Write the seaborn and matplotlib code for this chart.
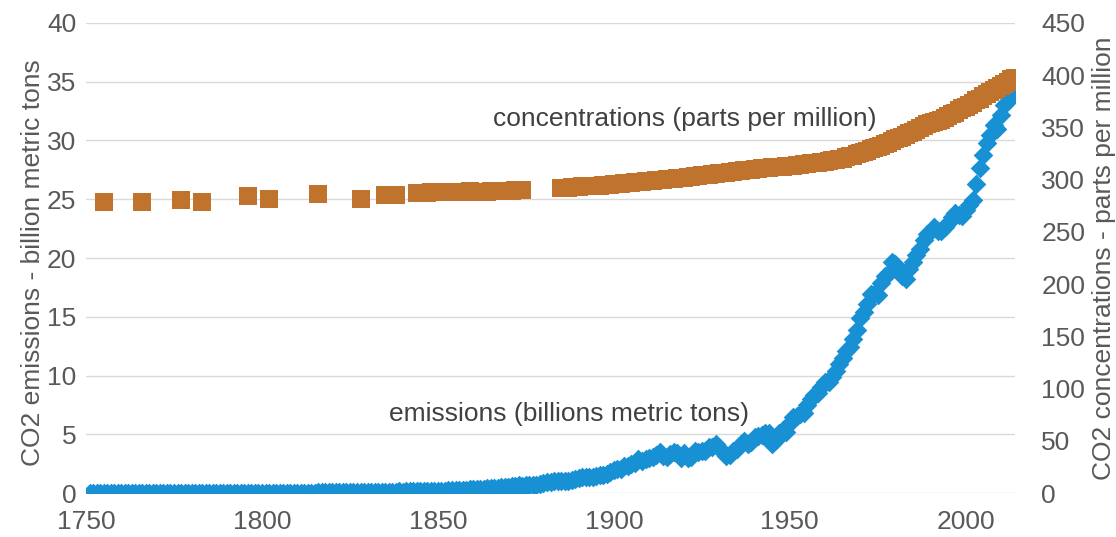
import matplotlib
matplotlib.use("Agg")
import matplotlib.pyplot as plt
import pandas as pd
import seaborn as sns

# Global CO2 emissions from fossil fuels, billion metric tons, one value per year
emission_years = list(range(1751, 2015))
emissions = [
    # 1751-1760
    0.01, 0.01, 0.01, 0.01, 0.01, 0.01, 0.01, 0.01, 0.01, 0.01,
    # 1761-1770
    0.01, 0.01, 0.01, 0.01, 0.01, 0.01, 0.01, 0.01, 0.01, 0.01,
    # 1771-1780
    0.01, 0.01, 0.01, 0.01, 0.01, 0.01, 0.01, 0.01, 0.01, 0.02,
    # 1781-1790
    0.02, 0.02, 0.02, 0.02, 0.02, 0.02, 0.02, 0.02, 0.02, 0.02,
    # 1791-1800
    0.02, 0.02, 0.02, 0.02, 0.02, 0.02, 0.02, 0.02, 0.03, 0.03,
    # 1801-1810
    0.03, 0.03, 0.03, 0.03, 0.03, 0.03, 0.03, 0.04, 0.04, 0.04,
    # 1811-1820
    0.04, 0.04, 0.04, 0.04, 0.04, 0.05, 0.05, 0.05, 0.05, 0.05,
    # 1821-1830
    0.05, 0.05, 0.06, 0.06, 0.06, 0.07, 0.07, 0.07, 0.08, 0.09,
    # 1831-1840
    0.09, 0.10, 0.10, 0.10, 0.11, 0.11, 0.12, 0.12, 0.13, 0.12,
    # 1841-1850
    0.13, 0.13, 0.13, 0.14, 0.16, 0.16, 0.17, 0.17, 0.17, 0.20,
    # 1851-1860
    0.20, 0.21, 0.22, 0.23, 0.25, 0.26, 0.26, 0.27, 0.30, 0.33,
    # 1861-1870
    0.35, 0.35, 0.37, 0.39, 0.42, 0.43, 0.46, 0.47, 0.51, 0.54,
    # 1871-1880
    0.57, 0.63, 0.66, 0.63, 0.68, 0.69, 0.69, 0.70, 0.76, 0.87,
    # 1881-1890
    0.90, 0.94, 0.99, 1.00, 0.99, 1.00, 1.05, 1.13, 1.16, 1.31,
    # 1891-1900
    1.33, 1.36, 1.34, 1.40, 1.49, 1.52, 1.57, 1.65, 1.80, 1.96,
    # 1901-1910
    2.02, 2.08, 2.26, 2.29, 2.43, 2.59, 2.87, 2.75, 2.88, 3.00,
    # 1911-1920
    3.07, 3.22, 3.46, 3.12, 3.07, 3.30, 3.50, 3.43, 2.96, 3.42,
    # 1921-1930
    2.94, 3.10, 3.56, 3.53, 3.58, 3.60, 3.89, 3.91, 4.20, 3.86,
    # 1931-1940
    3.45, 3.11, 3.27, 3.57, 3.77, 4.14, 4.43, 4.19, 4.37, 4.76,
    # 1941-1950
    4.89, 4.92, 5.10, 5.07, 4.15, 4.54, 5.10, 5.39, 5.20, 5.98,
    # 1951-1960
    6.48, 6.58, 6.75, 6.84, 7.49, 7.98, 8.32, 8.54, 9.00, 9.42,
    # 1961-1970
    9.46, 9.85, 10.39, 10.98, 11.48, 12.06, 12.44, 13.08, 13.86, 14.86,
    # 1971-1980
    15.43, 16.05, 16.92, 16.95, 16.85, 17.84, 18.43, 18.65, 19.69, 19.49,
    # 1981-1990
    18.89, 18.45, 18.25, 19.06, 19.64, 20.26, 20.79, 21.57, 22.06, 22.27,
    # 1991-2000
    22.6, 22.3, 22.3, 22.6, 23.0, 23.5, 23.8, 23.7, 23.6, 24.1,
    # 2001-2010
    24.5, 24.9, 26.3, 27.7, 28.8, 29.8, 30.5, 31.3, 31.0, 32.2,
    # 2011-2014
    33.0, 33.4, 33.8, 34.1,
]

# Atmospheric CO2 concentration, parts per million
# (sparse ice-core samples early on, yearly values later)
concentration_years = (
    [1755, 1766, 1777, 1783, 1796, 1802, 1816, 1828, 1835, 1837, 1838]
    + list(range(1844, 1875))
    + list(range(1885, 2015))
)
concentrations = [
    # sparse samples 1755-1838
    279.0, 278.6, 280.8, 278.3, 284.0, 281.5, 286.0, 281.5, 285.5, 285.7, 285.4,
    # 1844-1874
    286.8, 287.2, 287.5, 287.6, 287.8, 288.0, 288.4, 288.5, 288.3, 288.2,
    288.0, 287.9, 288.1, 288.4, 288.6, 288.7, 288.6, 288.5, 288.5, 288.4,
    288.6, 288.8, 289.0, 289.1, 289.2, 289.4, 289.5, 289.6, 289.7, 289.8,
    289.9,
    # 1885-1900
    291.8, 292.0, 292.2, 292.5, 292.8, 293.2, 293.5, 293.8, 294.0, 294.1,
    294.2, 294.4, 294.7, 295.0, 295.3, 295.7,
    # 1901-1910
    296.0, 296.3, 296.6, 296.9, 297.2, 297.5, 297.8, 298.1, 298.4, 298.7,
    # 1911-1920
    299.0, 299.3, 299.6, 299.9, 300.2, 300.5, 300.8, 301.2, 301.6, 302.0,
    # 1921-1930
    302.4, 302.8, 303.2, 303.6, 304.0, 304.4, 304.8, 305.2, 305.6, 306.0,
    # 1931-1940
    306.4, 306.8, 307.2, 307.6, 308.0, 308.4, 308.8, 309.2, 309.6, 310.0,
    # 1941-1950
    310.4, 310.8, 311.1, 311.4, 311.7, 312.0, 312.3, 312.6, 312.9, 313.2,
    # 1951-1960
    313.5, 313.9, 314.3, 314.7, 315.1, 315.5, 315.9, 316.3, 316.7, 317.1,
    # 1961-1970
    317.6, 318.5, 319.0, 319.6, 320.0, 321.4, 322.2, 323.1, 324.6, 325.7,
    # 1971-1980
    326.3, 327.5, 329.7, 330.2, 331.1, 332.1, 333.8, 335.4, 336.8, 338.7,
    # 1981-1990
    339.9, 341.1, 342.9, 344.7, 346.1, 347.4, 349.2, 351.6, 353.1, 354.4,
    # 1991-2000
    355.6, 356.4, 357.1, 358.8, 360.8, 362.6, 363.7, 366.7, 368.4, 369.6,
    # 2001-2010
    371.1, 373.2, 375.8, 377.5, 379.8, 381.9, 383.8, 385.6, 387.4, 389.9,
    # 2011-2014
    391.6, 393.8, 396.5, 397.0,
]

x_ticks = [1750, 1800, 1850, 1900, 1950, 2000]
left_ticks = [0, 5, 10, 15, 20, 25, 30, 35, 40]
right_ticks = [0, 50, 100, 150, 200, 250, 300, 350, 400, 450]

emission_label = "emissions (billions metric tons)"
concentration_label = "concentrations (parts per million)"
left_axis_title = "CO2 emissions - billion metric tons"
right_axis_title = "CO2 concentrations - parts per million"

emissions_df = pd.DataFrame({"year": emission_years, "emissions": emissions})
concentration_df = pd.DataFrame({"year": concentration_years, "ppm": concentrations})

BLUE = "#1790D4"
BROWN = "#C0732D"
TICK_GREY = "#595959"
TEXT_GREY = "#404040"
GRID_GREY = "#D9D9D9"

sns.set_theme(style="white")
plt.rcParams["font.family"] = ["Liberation Sans", "DejaVu Sans"]

fig = plt.figure(figsize=(11.16, 5.37), dpi=100)
ax = fig.add_axes([0.0771, 0.0819, 0.8324, 0.8753])
ax2 = ax.twinx()

sns.scatterplot(data=emissions_df, x="year", y="emissions", ax=ax,
                marker="D", s=100, color=BLUE, linewidth=0, legend=False,
                zorder=3)
sns.scatterplot(data=concentration_df, x="year", y="ppm", ax=ax2,
                marker="s", s=150, color=BROWN, linewidth=0, legend=False,
                zorder=3)

ax.set_xlim(1750, 2014)
ax.set_ylim(0, 40)
ax2.set_ylim(0, 450)
ax.set_xticks(x_ticks)
ax.set_yticks(left_ticks)
ax2.set_yticks(right_ticks)

ax.set_axisbelow(True)
ax.grid(axis="y", color=GRID_GREY, linewidth=1.0)
ax.grid(axis="x", visible=False)
ax2.grid(False)

for a in (ax, ax2):
    for spine in a.spines.values():
        spine.set_visible(False)

ax.tick_params(axis="x", length=0, pad=12, labelsize=19, labelcolor=TICK_GREY)
ax.tick_params(axis="y", length=0, pad=7, labelsize=19, labelcolor=TICK_GREY)
ax2.tick_params(axis="y", length=0, pad=19, labelsize=19, labelcolor=TICK_GREY)

ax.set_xlabel("")
ax.set_ylabel(left_axis_title, fontsize=19, color=TICK_GREY)
ax2.set_ylabel(right_axis_title, fontsize=19, color=TICK_GREY)
ax.yaxis.set_label_coords(-0.0447, 0.49)
ax2.yaxis.set_label_coords(1.083, 0.50)

ax2.text(0.645, 0.796, concentration_label, transform=ax2.transAxes,
         ha="center", va="center", fontsize=19, color=TEXT_GREY)
ax2.text(0.52, 0.168, emission_label, transform=ax2.transAxes,
         ha="center", va="center", fontsize=19, color=TEXT_GREY)

fig.savefig("out.png", dpi=100, facecolor="white")
